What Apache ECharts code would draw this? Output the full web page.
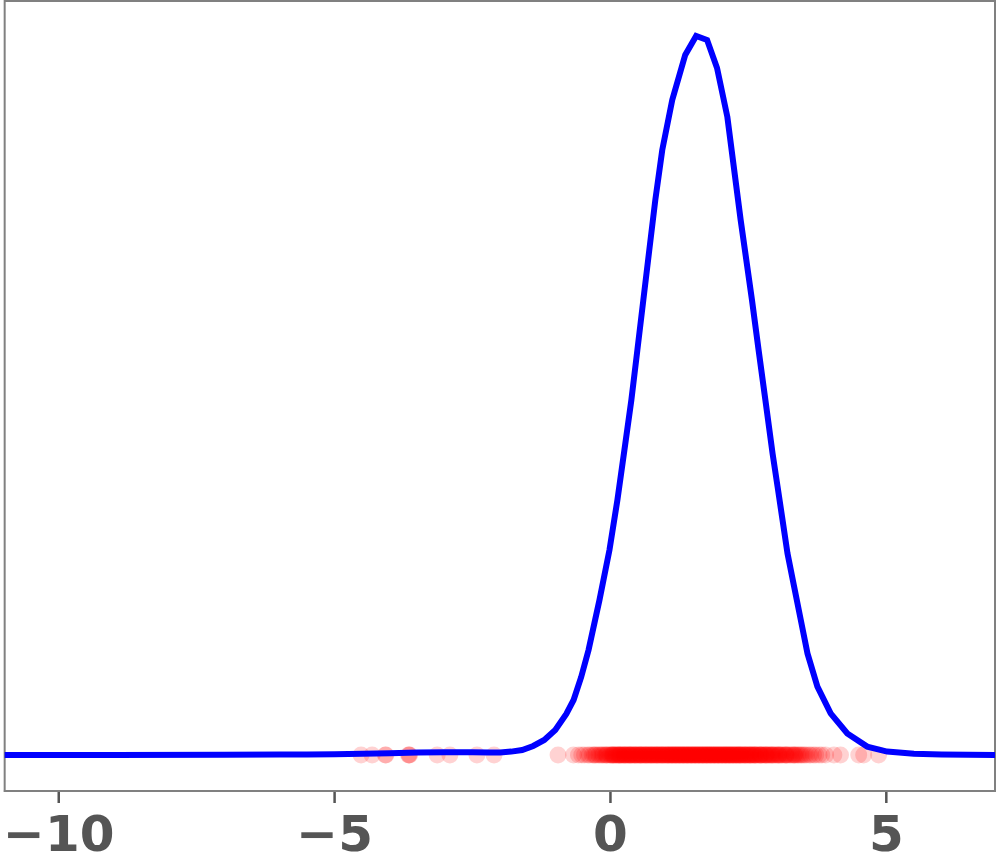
<!DOCTYPE html>
<html>
<head>
<meta charset="utf-8">
<script src="https://cdn.jsdelivr.net/npm/echarts@6/dist/echarts.min.js"></script>
<style>html,body{margin:0;padding:0;background:#fff}#c{width:997px;height:865px}</style>
</head>
<body>
<div id="c"></div>
<script>
// KDE curve
const kdeX = [-10.98, -9, -7, -6, -5.5, -5, -4.5, -4, -3.5, -3, -2.5, -2.2, -2.0, -1.8, -1.6, -1.4, -1.2, -1.0, -0.8, -0.668, -0.53, -0.397, -0.199, -0.018, 0.126, 0.253, 0.379, 0.488, 0.596, 0.704, 0.813, 0.939, 1.12, 1.355, 1.553, 1.752, 1.932, 2.119, 2.36, 2.565, 2.685, 2.808, 2.938, 3.029, 3.119, 3.209, 3.329, 3.45, 3.571, 3.751, 3.991, 4.293, 4.654, 5.015, 5.5, 6.0, 6.97];
const kdeY = [0, 0, 0.0001, 0.0002, 0.0003, 0.0004, 0.0006, 0.0009, 0.0012, 0.0014, 0.0014, 0.0013, 0.0013, 0.0017, 0.0025, 0.0045, 0.0075, 0.0125, 0.0205, 0.0275, 0.039, 0.0525, 0.0775, 0.1025, 0.1275, 0.1525, 0.1775, 0.2025, 0.2275, 0.2525, 0.2775, 0.3025, 0.3275, 0.35, 0.3595, 0.3575, 0.3435, 0.319, 0.2675, 0.2275, 0.2025, 0.1775, 0.1508, 0.1342, 0.1175, 0.1008, 0.0842, 0.0675, 0.0508, 0.0342, 0.0208, 0.0108, 0.0042, 0.0017, 0.0006, 0.0002, 0];
// rug observations (outlying left group)
const rugLeft = [-4.52, -4.32, -4.08, -4.07, -3.66, -3.65, -3.64, -3.14, -2.91, -2.42, -2.11];
// rug observations (main group)
const rugMain = [-0.95, -0.67, -0.58, -0.52, -0.47, -0.41, -0.38, -0.33, -0.30, -0.26, -0.22, -0.20, -0.17, -0.13, -0.10, -0.08, -0.05, -0.02,
  0.00, 0.03, 0.06, 0.08, 0.11, 0.14, 0.17, 0.19, 0.22, 0.25, 0.28, 0.30, 0.33, 0.36, 0.38, 0.41, 0.44, 0.46, 0.49, 0.52, 0.54,
  0.57, 0.60, 0.62, 0.65, 0.68, 0.70, 0.73, 0.75, 0.78, 0.80, 0.83, 0.85, 0.88, 0.90, 0.93, 0.95, 0.98, 1.00, 1.02, 1.05,
  1.07, 1.10, 1.12, 1.14, 1.17, 1.19, 1.21, 1.24, 1.26, 1.28, 1.31, 1.33, 1.35, 1.38, 1.40, 1.42, 1.45, 1.47, 1.49, 1.52,
  1.54, 1.56, 1.59, 1.61, 1.63, 1.66, 1.68, 1.70, 1.73, 1.75, 1.77, 1.80, 1.82, 1.84, 1.87, 1.89, 1.91, 1.94, 1.96, 1.98,
  2.01, 2.03, 2.06, 2.08, 2.11, 2.13, 2.16, 2.18, 2.21, 2.24, 2.26, 2.29, 2.32, 2.34, 2.37, 2.40, 2.43, 2.46, 2.49, 2.52,
  2.55, 2.58, 2.61, 2.64, 2.68, 2.71, 2.74, 2.78, 2.81, 2.85, 2.88, 2.92, 2.96, 3.00, 3.04, 3.08, 3.12, 3.17, 3.21, 3.26,
  3.31, 3.36, 3.41, 3.46, 3.52, 3.55, 3.60, 3.63, 3.68, 3.72, 3.78, 3.83, 3.90, 4.05, 4.17, 4.50, 4.59, 4.86,
  -0.28, -0.15, -0.07, 0.01, 0.05, 0.09, 0.12, 0.15, 0.18, 0.21, 0.24, 0.27, 0.31, 0.34, 0.37, 0.40, 0.43, 0.47, 0.50,
  0.53, 0.56, 0.59, 0.63, 0.66, 0.69, 0.72, 0.76, 0.79, 0.82, 0.86, 0.89, 0.92, 0.96, 0.99, 1.03, 1.06, 1.09, 1.13,
  1.16, 1.20, 1.23, 1.27, 1.30, 1.34, 1.37, 1.41, 1.44, 1.48, 1.51, 1.55, 1.58, 1.62, 1.65, 1.69, 1.72, 1.76, 1.79,
  1.83, 1.86, 1.90, 1.93, 1.97, 2.00, 2.04, 2.07, 2.10, 2.14, 2.17, 2.20, 2.23, 2.27, 2.30, 2.33, 2.36, 2.39, 2.42,
  2.45, 2.48, 2.51, 2.54, 2.57, 2.60, 2.63, 2.66, 2.70, 2.73, 2.76, 2.80, 2.83, 2.87, 2.90, 2.94, 2.98, 3.02, 3.06,
  3.10, 3.15, 3.19, 3.24, 3.29, 3.34, 3.39, 3.44, 3.49,
  0.04, 0.16, 0.26, 0.35, 0.45, 0.55, 0.64, 0.74, 0.84, 0.94, 1.04, 1.11, 1.18, 1.25, 1.32, 1.39, 1.46, 1.53, 1.60,
  1.67, 1.74, 1.81, 1.88, 1.95, 2.02, 2.09, 2.15, 2.22, 2.28, 2.35, 2.44, 2.53, 2.62, 2.72, 2.82, 2.93, 3.05, 3.18, 3.33];
const xTicks = [-10, -5, 0, 5];

const xMin = -10.98, xMax = 6.97, yMin = -0.018, yMax = 0.377;

const chart = echarts.init(document.getElementById('c'), null, {renderer: 'canvas'});
chart.setOption({
  animation: false,
  grid: {left: 1, right: 2, top: 1, bottom: 74, show: true, borderColor: '#808080', borderWidth: 2, backgroundColor: '#fff'},
  xAxis: {
    type: 'value', min: xMin, max: xMax,
    axisLine: {show: true, onZero: false, lineStyle: {color: '#808080', width: 2}},
    axisTick: {show: false},
    splitLine: {show: false},
    axisLabel: {
      color: '#555555', fontFamily: 'DejaVu Sans', fontWeight: 'bold', fontSize: 50, margin: 22,
      customValues: xTicks,
      formatter: v => (v < 0 ? '\u2212' + Math.abs(v) : String(v))
    }
  },
  yAxis: {
    type: 'value', min: yMin, max: yMax,
    axisLine: {show: false}, axisTick: {show: false}, axisLabel: {show: false}, splitLine: {show: false}
  },
  series: [
    {
      type: 'scatter', z: 2,
      data: rugLeft.concat(rugMain).map(v => [v, 0]),
      symbolSize: 17,
      itemStyle: {color: 'rgba(255,0,0,0.22)'},
      silent: true
    },
    {
      type: 'line', z: 3,
      data: kdeX.map((v, i) => [v, kdeY[i]]),
      showSymbol: false, smooth: false,
      lineStyle: {color: '#0000ff', width: 6, join: 'miter'},
      silent: true
    },
    {
      // outward tick marks at the x tick values, positioned via the axis scale
      type: 'custom', z: 4, clip: false, silent: true,
      data: xTicks.map(v => [v, yMin]),
      renderItem: function (params, api) {
        const p = api.coord([api.value(0), api.value(1)]);
        return {
          type: 'line',
          shape: {x1: p[0], y1: p[1] + 1, x2: p[0], y2: p[1] + 12},
          style: {stroke: '#555555', lineWidth: 2.5}
        };
      }
    }
  ]
});
</script>
</body>
</html>
